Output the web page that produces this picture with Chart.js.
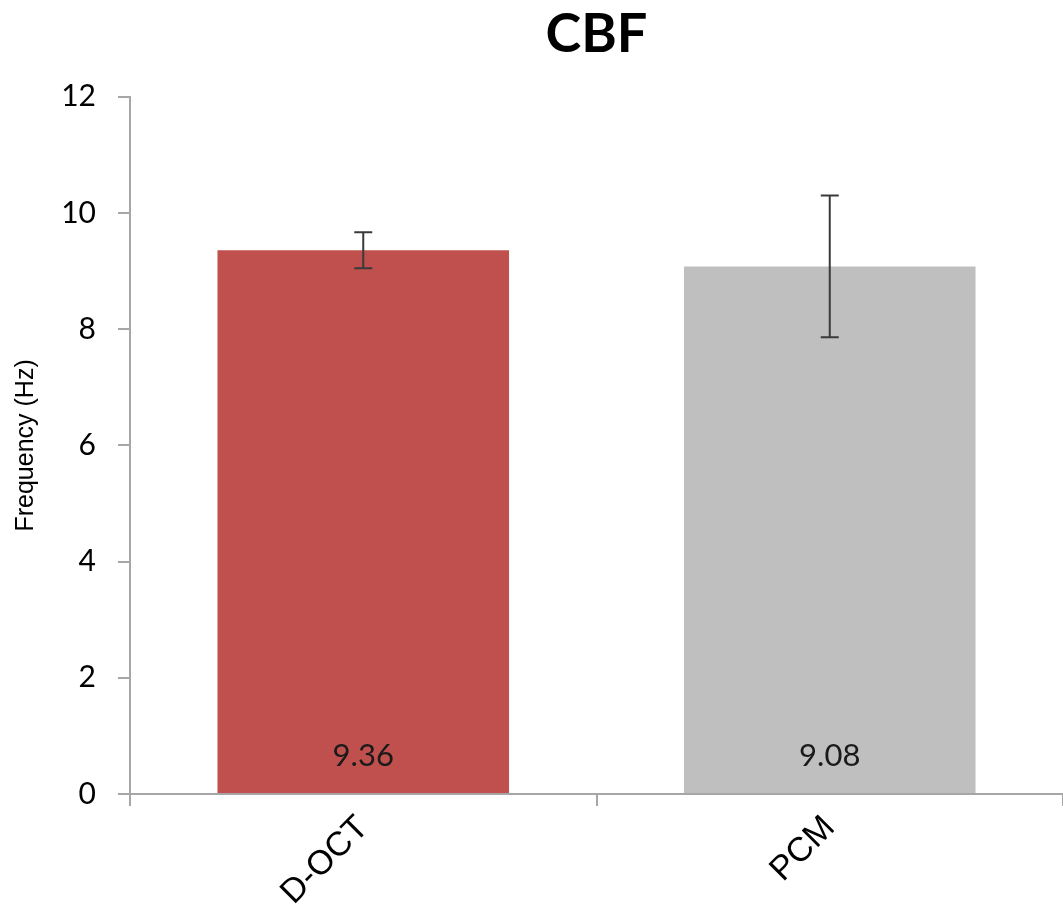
<!DOCTYPE html>
<html>
<head>
<meta charset="utf-8">
<title>CBF</title>
<script src="https://cdn.jsdelivr.net/npm/chart.js@4.4.1/dist/chart.umd.min.js"></script>
<style>
	html, body { margin: 0; padding: 0; background: #fff; }
	#wrap { width: 1063px; height: 904px; }
</style>
</head>
<body>
<div id="wrap"><canvas id="canvasCbf"></canvas></div>
<script>
"use strict"

// data
var categories = ['D-OCT', 'PCM']
var meanValues = [9.36, 9.08]
var errorValues = [0.31, 1.22]
var yTicks = [0, 2, 4, 6, 8, 10, 12]

var barColors = ['#C0504D', '#BFBFBF']
var axisColor = '#A6A6A6'

// error bars drawn through the y scale
var errorBarPlugin = {
	id: 'errorBars',
	afterDatasetsDraw: function (chart) {
		const ctx = chart.ctx
		const yScale = chart.scales.y
		const meta = chart.getDatasetMeta(0)
		ctx.save()
		ctx.strokeStyle = '#3a3a3a'
		ctx.lineWidth = 2
		meta.data.forEach(function (bar, i) {
			const top = yScale.getPixelForValue(meanValues[i] + errorValues[i])
			const bottom = yScale.getPixelForValue(meanValues[i] - errorValues[i])
			ctx.beginPath()
			ctx.moveTo(bar.x, top)
			ctx.lineTo(bar.x, bottom)
			ctx.moveTo(bar.x - 9, top)
			ctx.lineTo(bar.x + 9, top)
			ctx.moveTo(bar.x - 9, bottom)
			ctx.lineTo(bar.x + 9, bottom)
			ctx.stroke()
		})
		ctx.restore()
	}
}

// value labels sitting at the foot of each bar
var valueLabelPlugin = {
	id: 'valueLabels',
	afterDatasetsDraw: function (chart) {
		const ctx = chart.ctx
		const yScale = chart.scales.y
		const meta = chart.getDatasetMeta(0)
		ctx.save()
		ctx.fillStyle = '#1a1a1a'
		ctx.font = '31px Lato, "Open Sans", sans-serif'
		ctx.textAlign = 'center'
		ctx.textBaseline = 'middle'
		meta.data.forEach(function (bar, i) {
			ctx.fillText(meanValues[i].toFixed(2), bar.x, yScale.getPixelForValue(0) - 38)
		})
		ctx.restore()
	}
}

const context = document.getElementById('canvasCbf').getContext('2d')
const myChart = new Chart(context, {
	type: 'bar',
	data: {
		labels: categories,
		datasets: [{
			label: 'CBF',
			data: meanValues,
			backgroundColor: barColors,
			borderWidth: 0,
			categoryPercentage: 0.625,
			barPercentage: 1
		}]
	},
	options: {
		responsive: true,
		maintainAspectRatio: false,
		animation: false,
		layout: { padding: { left: 0, right: 0, top: 0, bottom: 0 } },
		plugins: {
			legend: { display: false },
			tooltip: { enabled: false },
			title: {
				display: true,
				text: 'CBF',
				fullSize: false,
				color: '#000',
				font: { family: 'Lato, "Open Sans", sans-serif', size: 54, weight: 'bold' },
				padding: { top: 2, bottom: 30 }
			}
		},
		scales: {
			x: {
				grid: {
					display: true,
					drawOnChartArea: false,
					drawTicks: true,
					tickLength: 12,
					color: axisColor,
					lineWidth: 2
				},
				border: { display: true, color: axisColor, width: 2 },
				ticks: {
					color: '#000',
					font: { family: '"Liberation Sans", Arial, sans-serif', size: 34 },
					maxRotation: 45,
					minRotation: 45,
					padding: 2
				},
				afterFit: function (scale) { scale.height = 110 }
			},
			y: {
				min: 0,
				max: 12,
				afterBuildTicks: function (scale) {
					scale.ticks = yTicks.map(function (v) { return { value: v } })
				},
				grid: {
					display: true,
					drawOnChartArea: false,
					drawTicks: true,
					tickLength: 12,
					color: axisColor,
					lineWidth: 2
				},
				border: { display: true, color: axisColor, width: 2 },
				ticks: {
					color: '#000',
					font: { family: 'Lato, "Open Sans", sans-serif', size: 30 },
					padding: 22
				},
				title: {
					display: true,
					text: 'Frequency (Hz)',
					color: '#000',
					font: { family: '"Liberation Sans", Arial, sans-serif', size: 25 },
					padding: { top: 11, bottom: 4 }
				},
				afterFit: function (scale) { scale.width = 130 }
			}
		}
	},
	plugins: [errorBarPlugin, valueLabelPlugin]
})
</script>
</body>
</html>
